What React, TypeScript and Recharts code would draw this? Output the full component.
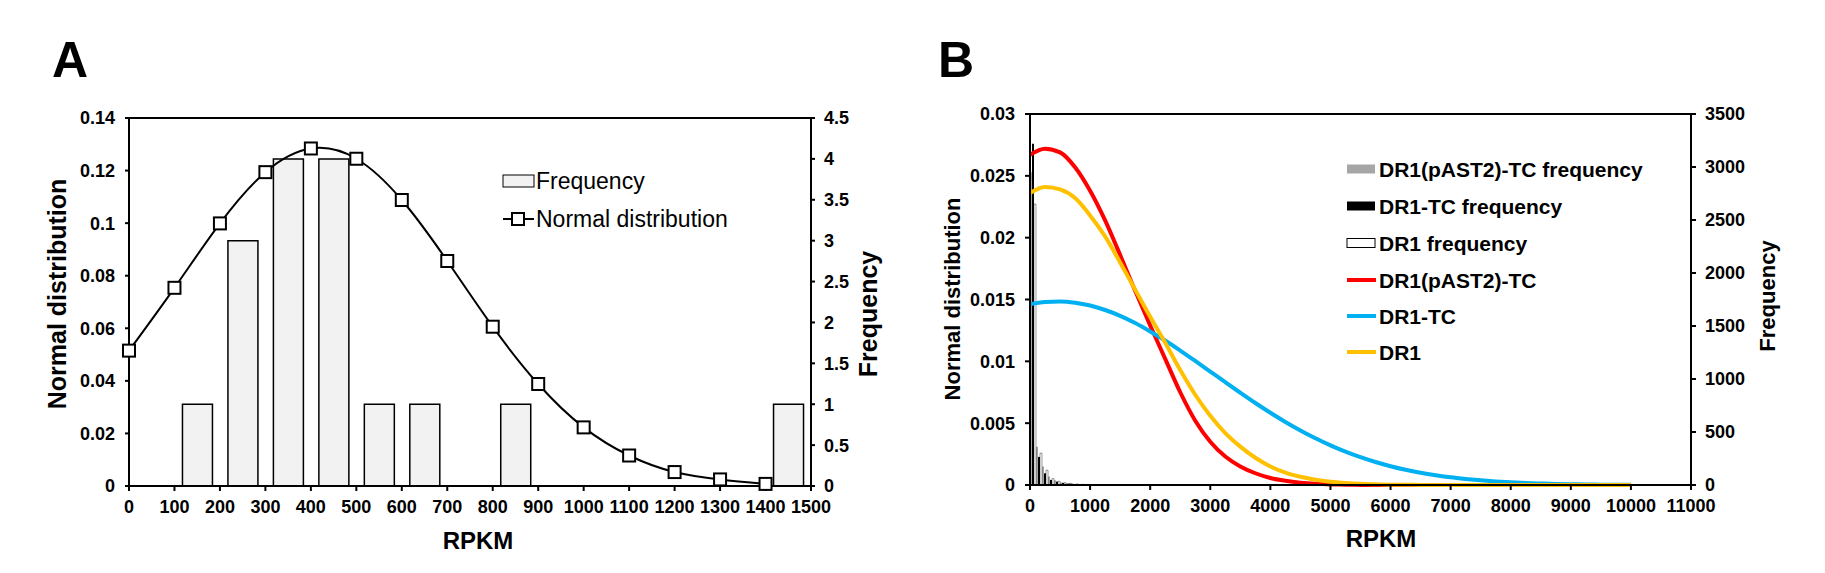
import React from 'react';
import { ComposedChart, Bar, Line, XAxis, YAxis, ReferenceLine } from 'recharts';

const FONT = '"Liberation Sans", Arial, Helvetica, sans-serif';

// ---- Panel A ----
const aX = [0, 100, 200, 300, 400, 500, 600, 700, 800, 900, 1000, 1100, 1200, 1300, 1400];
const aNormal = [0.0515, 0.0754, 0.0999, 0.1194, 0.1284, 0.1245, 0.1088, 0.0856, 0.0606, 0.0388, 0.0223, 0.0116, 0.0053, 0.0025, 0.0008];
const aBin = [50, 150, 250, 350, 450, 550, 650, 750, 850, 950, 1050, 1150, 1250, 1350, 1450];
const aFrequency = [0, 1, 3, 4, 4, 1, 1, 0, 1, 0, 0, 0, 0, 0, 1];
const aXTicks = [0, 100, 200, 300, 400, 500, 600, 700, 800, 900, 1000, 1100, 1200, 1300, 1400, 1500];
const aLeftTicks = [0, 0.02, 0.04, 0.06, 0.08, 0.1, 0.12, 0.14];
const aRightTicks = [0, 0.5, 1, 1.5, 2, 2.5, 3, 3.5, 4, 4.5];

// ---- Panel B ----
const bX = [
  0, 250, 500, 750, 1000, 1250, 1500, 1750, 2000, 2250, 2500, 2750, 3000, 3250, 3500, 3750, 4000, 4250, 4500, 4750,
  5000, 5250, 5500, 5750, 6000, 6250, 6500, 6750, 7000, 7250, 7500, 7750, 8000, 8250, 8500, 8750, 9000, 9250, 9500,
  9750, 10000,
];
const bPast2Tc = [
  0.0267, 0.0272, 0.0269, 0.0257, 0.0238, 0.0214, 0.0186, 0.0157, 0.0129, 0.0102, 0.0075, 0.0052, 0.0035, 0.0023,
  0.0015, 0.00095, 0.00057, 0.00034, 0.00019, 0.0001, 0.00005, 0.00003, 0.00001, 0, 0, 0, 0, 0, 0, 0, 0, 0, 0, 0, 0,
  0, 0, 0, 0, 0, 0,
];
const bDr1Tc = [
  0.01462, 0.0148, 0.01484, 0.01474, 0.01451, 0.01415, 0.01368, 0.0131, 0.01242, 0.01168, 0.01087, 0.01003, 0.00917,
  0.00831, 0.00746, 0.00663, 0.00584, 0.0051, 0.00441, 0.00378, 0.00321, 0.0027, 0.00225, 0.00186, 0.00152, 0.00123,
  0.00099, 0.00079, 0.00062, 0.00049, 0.00038, 0.00029, 0.00022, 0.00016, 0.00012, 0.00009, 0.00007, 0.00005, 0.00003,
  0.00002, 0.00002,
];
const bDr1 = [
  0.0236, 0.0241, 0.0239, 0.0232, 0.0218, 0.0201, 0.018, 0.0158, 0.0136, 0.0115, 0.0093, 0.0073, 0.0056, 0.0042, 0.0031,
  0.0022, 0.0015, 0.001, 0.00067, 0.00043, 0.00027, 0.00017, 0.0001, 0.00006, 0.00003, 0.00002, 0.00001, 0, 0, 0, 0,
  0, 0, 0, 0, 0, 0, 0, 0, 0, 0,
];
const bBin = [
  50, 150, 250, 350, 450, 550, 650, 750, 850, 950, 1050, 1150, 1250, 1350, 1450, 1550, 1650, 1750, 1850, 1950, 2050,
  2150, 2250, 2350, 2450, 2550, 2650, 2750, 2850, 2950, 3050, 3150, 3250, 3350, 3450, 3550, 3650, 3750, 3850, 3950,
  4050,
];
const bPast2TcFreq = [2950, 360, 175, 80, 45, 25, 18, 12, 8, 6, 4, 3, 2, 2];
const bDr1TcFreq = [3220, 265, 110, 48, 32, 20, 14, 10, 7, 5, 4, 3, 2, 2];
const bDr1Freq = [2650, 300, 140, 60, 35, 22, 15, 10, 7, 5, 4, 3, 2, 2];
const bXTicks = [0, 1000, 2000, 3000, 4000, 5000, 6000, 7000, 8000, 9000, 10000, 11000];
const bLeftTicks = [0, 0.005, 0.01, 0.015, 0.02, 0.025, 0.03];
const bRightTicks = [0, 500, 1000, 1500, 2000, 2500, 3000, 3500];

const RED = '#ff0000';
const BLUE = '#00b0f0';
const YELLOW = '#ffc000';

const dataA = aX.map((x, i) => ({ x, nd: aNormal[i], bin: aBin[i], freq: aFrequency[i] }));
const dataB = bX.map((x, i) => ({
  x,
  past2: bPast2Tc[i],
  dr1tc: bDr1Tc[i],
  dr1: bDr1[i],
  bin: bBin[i],
  fPast2: bPast2TcFreq[i] ?? 0,
  fDr1Tc: bDr1TcFreq[i] ?? 0,
  fDr1: bDr1Freq[i] ?? 0,
}));

const tickStyle = { fill: '#000', fontSize: 18, fontWeight: 'bold', fontFamily: FONT };
const axisStroke = { stroke: '#000', strokeWidth: 2 };

const renderSquare = (p: any) => {
  if (p.cx == null || p.cy == null) return <g key={`sq-${p.index}`} />;
  return (
    <rect key={`sq-${p.index}`} x={p.cx - 6} y={p.cy - 6} width={12} height={12} fill="#fff" stroke="#000" strokeWidth={2} />
  );
};

const PanelA = () => (
  <ComposedChart width={900} height={573} data={dataA} margin={{ top: 118, right: 29, left: 69, bottom: 47 }}>
    <XAxis
      xAxisId="aMain"
      dataKey="x"
      type="number"
      domain={[0, 1500]}
      ticks={aXTicks}
      interval={0}
      height={40}
      tick={tickStyle}
      tickSize={5}
      tickMargin={9}
      axisLine={axisStroke}
      tickLine={axisStroke}
    />
    <XAxis xAxisId="zBins" dataKey="bin" type="number" domain={[0, 1500]} height={0} hide />
    <YAxis
      yAxisId="left"
      domain={[0, 0.14]}
      ticks={aLeftTicks}
      interval={0}
      width={60}
      tick={tickStyle}
      tickSize={4}
      tickMargin={10}
      axisLine={axisStroke}
      tickLine={axisStroke}
    />
    <YAxis
      yAxisId="right"
      orientation="right"
      domain={[0, 4.5]}
      ticks={aRightTicks}
      interval={0}
      width={60}
      tick={tickStyle}
      tickSize={4}
      tickMargin={9}
      axisLine={axisStroke}
      tickLine={axisStroke}
    />
    <ReferenceLine xAxisId="aMain" yAxisId="left" y={0.14} stroke="#000" strokeWidth={2} />
    <Bar
      xAxisId="zBins"
      yAxisId="right"
      dataKey="freq"
      barSize={30}
      fill="#f2f2f2"
      stroke="#000"
      strokeWidth={1.5}
      isAnimationActive={false}
    />
    <Line
      xAxisId="aMain"
      yAxisId="left"
      dataKey="nd"
      type="natural"
      stroke="#000"
      strokeWidth={2}
      dot={renderSquare}
      activeDot={false}
      isAnimationActive={false}
    />
  </ComposedChart>
);

const PanelB = () => (
  <ComposedChart width={905} height={573} data={dataB} barGap={0} margin={{ top: 114, right: 74, left: 50, bottom: 48 }}>
    <XAxis
      xAxisId="aMain"
      dataKey="x"
      type="number"
      domain={[0, 11000]}
      ticks={bXTicks}
      interval={0}
      height={40}
      tick={tickStyle}
      tickSize={5}
      tickMargin={9}
      axisLine={axisStroke}
      tickLine={axisStroke}
    />
    <XAxis xAxisId="zBins" dataKey="bin" type="number" domain={[0, 11000]} height={0} hide />
    <YAxis
      yAxisId="left"
      domain={[0, 0.03]}
      ticks={bLeftTicks}
      interval={0}
      width={60}
      tick={tickStyle}
      tickSize={5}
      tickMargin={10}
      axisLine={axisStroke}
      tickLine={axisStroke}
    />
    <YAxis
      yAxisId="right"
      orientation="right"
      domain={[0, 3500]}
      ticks={bRightTicks}
      interval={0}
      width={60}
      tick={tickStyle}
      tickSize={5}
      tickMargin={9}
      axisLine={axisStroke}
      tickLine={axisStroke}
    />
    <ReferenceLine xAxisId="aMain" yAxisId="left" y={0.03} stroke="#000" strokeWidth={2} />
    <Bar xAxisId="zBins" yAxisId="right" dataKey="fPast2" barSize={2} fill="#a6a6a6" isAnimationActive={false} />
    <Bar xAxisId="zBins" yAxisId="right" dataKey="fDr1Tc" barSize={2} fill="#000" isAnimationActive={false} />
    <Bar
      xAxisId="zBins"
      yAxisId="right"
      dataKey="fDr1"
      barSize={2}
      fill="#fff"
      stroke="#000"
      strokeWidth={0.4}
      isAnimationActive={false}
    />
    <Line xAxisId="aMain" yAxisId="left" dataKey="past2" type="monotone" stroke={RED} strokeWidth={4} dot={false} activeDot={false} isAnimationActive={false} />
    <Line xAxisId="aMain" yAxisId="left" dataKey="dr1tc" type="monotone" stroke={BLUE} strokeWidth={4} dot={false} activeDot={false} isAnimationActive={false} />
    <Line xAxisId="aMain" yAxisId="left" dataKey="dr1" type="monotone" stroke={YELLOW} strokeWidth={4} dot={false} activeDot={false} isAnimationActive={false} />
  </ComposedChart>
);

const legendB = [
  { label: 'DR1(pAST2)-TC frequency', kind: 'rect', color: '#a6a6a6' },
  { label: 'DR1-TC frequency', kind: 'rect', color: '#000' },
  { label: 'DR1 frequency', kind: 'box', color: '#fff' },
  { label: 'DR1(pAST2)-TC', kind: 'line', color: RED },
  { label: 'DR1-TC', kind: 'line', color: BLUE },
  { label: 'DR1', kind: 'line', color: YELLOW },
];
const legendBRows = [169, 206, 243, 280, 316, 352];

const Overlay = () => (
  <svg width={1825} height={573} style={{ position: 'absolute', left: 0, top: 0, pointerEvents: 'none' }} fontFamily={FONT}>
    <text x={52} y={77} fontSize={50} fontWeight="bold">A</text>
    <text x={938} y={77} fontSize={50} fontWeight="bold">B</text>

    <text transform="translate(57,294) rotate(-90)" textAnchor="middle" dominantBaseline="central" fontSize={25} fontWeight="bold">
      Normal distribution
    </text>
    <text transform="translate(868,314) rotate(-90)" textAnchor="middle" dominantBaseline="central" fontSize={25} fontWeight="bold">
      Frequency
    </text>
    <text x={478} y={540} textAnchor="middle" dominantBaseline="central" fontSize={24} fontWeight="bold">RPKM</text>

    <text transform="translate(952,299) rotate(-90)" textAnchor="middle" dominantBaseline="central" fontSize={22} fontWeight="bold">
      Normal distribution
    </text>
    <text transform="translate(1767,296) rotate(-90)" textAnchor="middle" dominantBaseline="central" fontSize={22} fontWeight="bold">
      Frequency
    </text>
    <text x={1381} y={538} textAnchor="middle" dominantBaseline="central" fontSize={24} fontWeight="bold">RPKM</text>

    {/* legend A */}
    <rect x={503} y={175} width={31} height={12} fill="#f2f2f2" stroke="#000" strokeWidth={1} />
    <text x={536} y={181} dominantBaseline="central" fontSize={23}>Frequency</text>
    <line x1={503} x2={534} y1={219} y2={219} stroke="#000" strokeWidth={2} />
    <rect x={512} y={213} width={12} height={12} fill="#fff" stroke="#000" strokeWidth={2} />
    <text x={536} y={219} dominantBaseline="central" fontSize={23}>Normal distribution</text>

    {/* legend B */}
    {legendB.map((item, i) => {
      const y = legendBRows[i];
      return (
        <g key={item.label}>
          {item.kind === 'line' ? (
            <line x1={1347} x2={1376} y1={y} y2={y} stroke={item.color} strokeWidth={4} />
          ) : (
            <rect
              x={1347}
              y={y - 4.5}
              width={28}
              height={9}
              fill={item.color}
              stroke={item.kind === 'box' ? '#000' : 'none'}
              strokeWidth={1}
            />
          )}
          <text x={1379} y={y} dominantBaseline="central" fontSize={21} fontWeight="bold">
            {item.label}
          </text>
        </g>
      );
    })}
  </svg>
);

export default function App() {
  return (
    <div style={{ position: 'absolute', left: 0, top: 0, width: 1825, height: 573, background: '#fff', fontFamily: FONT }}>
      <div style={{ position: 'absolute', left: 0, top: 0 }}>
        <PanelA />
      </div>
      <div style={{ position: 'absolute', left: 920, top: 0 }}>
        <PanelB />
      </div>
      <Overlay />
    </div>
  );
}
